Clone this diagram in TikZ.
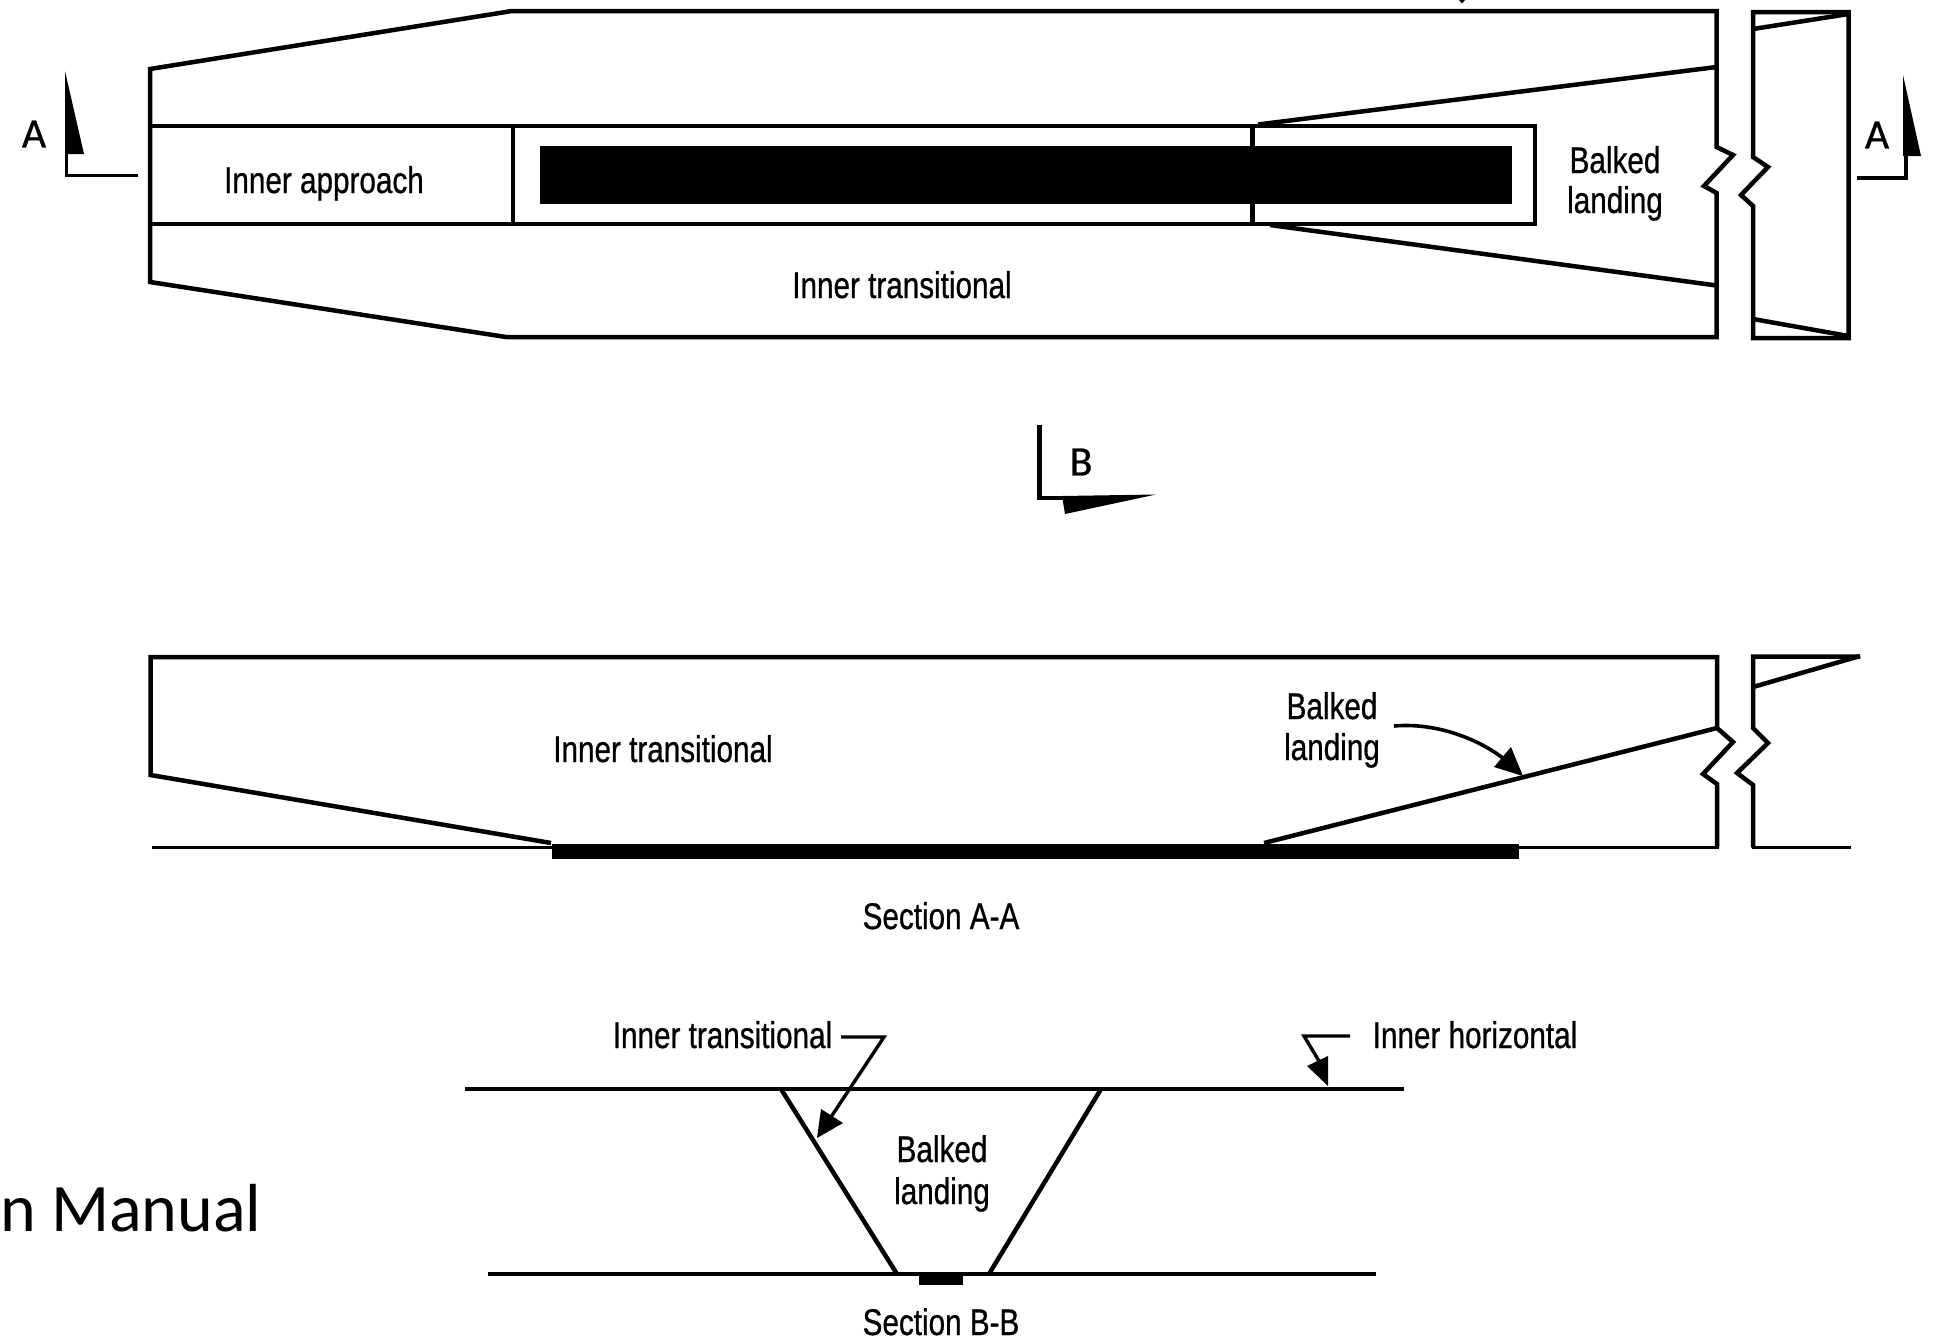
\documentclass[tikz,border=0pt]{standalone}
\usepackage{fontspec}
\setmainfont[FakeStretch=0.8,FakeBold=0.7]{Liberation Sans}
\newfontfamily\calfont[FakeBold=0.7]{Carlito}
\newfontfamily\capfont{Carlito}
\tikzset{
  ln/.style={draw=black,line width=4.5pt,line join=miter,line cap=butt},
  thn/.style={draw=black,line width=3.4pt,line join=miter},
  lbl/.style={inner sep=0pt,font=\fontsize{37.1}{42}\selectfont,align=center,text=black},
  sec/.style={inner sep=0pt,font=\calfont\fontsize{42}{42}\selectfont,text=black},
}
\begin{document}
\begin{tikzpicture}[x=1pt,y=-1pt]
\useasboundingbox[fill=white] (0,0) rectangle (1933,1339);
% ---------- plan ----------
\draw[ln] (150,69) -- (512,11) -- (1716.6,11) -- (1716.6,147) -- (1733,155) -- (1704,186) -- (1716.6,193) -- (1716.6,337) -- (506,337) -- (150,282) -- cycle;
\draw[ln] (150,126) -- (1535,126) -- (1535,224) -- (150,224);
\draw[ln] (513,126) -- (513,224);
\draw[ln] (1252.7,126) -- (1252.7,224);
\draw[ln] (1258,124.5) -- (1716.6,67);
\draw[ln] (1270,225) -- (1716.6,285.5);
\fill[black] (540,146) rectangle (1512,204);
% right piece
\draw[ln] (1753,12) -- (1848.5,12) -- (1848.5,338) -- (1753,338) -- (1753,206) -- (1741,195) -- (1768,167) -- (1753,157) -- cycle;
\draw[ln] (1753,29) -- (1848.5,14);
\draw[ln] (1753,319) -- (1848.5,336);
\fill[black] (1459,0) -- (1465,0) -- (1462,3.5) -- cycle;
% section marks
\fill[black] (65,71) -- (84,154) -- (65,154) -- cycle;
\draw[thn] (66.5,152) -- (66.5,175.5) -- (138,175.5);
\node[sec] (markAL) at (34,134) {A};
\fill[black] (1903,75) -- (1921,156) -- (1903,156) -- cycle;
\draw[thn] (1906,154) -- (1906,178) -- (1857,178);
\node[sec] (markAR) at (1877,135) {A};
\draw[line width=4.8pt] (1039.4,425) -- (1039.4,498) -- (1063,498);
\fill[black] (1062,496) -- (1156,494.5) -- (1065,514) -- cycle;
\node[sec] (markB) at (1081,462) {B};
\node[lbl,anchor=base] (ia) at (324,193) {Inner approach};
\node[lbl,anchor=base] (bl1) at (1615,173) {Balked};
\node[lbl,anchor=base] (bl2) at (1615,213) {landing};
\node[lbl,anchor=base] (it1) at (902,298) {Inner transitional};
% ---------- section A-A ----------
\draw[ln] (1717,847.5) -- (1717,784) -- (1703,774) -- (1733,742) -- (1717,728) -- (1717,657) -- (150.5,657) -- (150.5,775) -- (551,843);
\draw[thn] (152,847.5) -- (552,847.5);
\draw[thn] (1515,847.5) -- (1718.5,847.5);
\fill[black] (552,844) rectangle (1519,858.5);
\draw[ln] (1264,843) -- (1717,728);
\draw[ln] (1860,656.5) -- (1753,656.5) -- (1753,728) -- (1768,743) -- (1737,773) -- (1753,785) -- (1753,847.5);
\draw[ln] (1753,687) -- (1860,656);
\draw[thn] (1751.5,847.5) -- (1851,847.5);
\node[lbl,anchor=base] (it2) at (663,762) {Inner transitional};
\node[lbl,anchor=base] (bal1) at (1332,719) {Balked};
\node[lbl,anchor=base] (bal2) at (1332,760) {landing};
\node[lbl,anchor=base] (saa) at (941,929) {Section A-A};
\coordinate (balstart) at (1394,726);
\coordinate (baltip) at (1523,776);
\draw[line width=3.6pt] (balstart) .. controls (1440,722) and (1485,742) .. (1509,763);
\fill[black] (baltip) -- (1494,767) -- (1511,747) -- cycle;
% ---------- section B-B ----------
\draw[ln] (465,1089) -- (1404,1089);
\draw[ln] (488,1274) -- (1376,1274);
\draw[ln] (781,1089) -- (897,1274);
\draw[ln] (1101,1089) -- (989,1274);
\fill[black] (919,1274) rectangle (963,1285);
\node[lbl,anchor=base] (it3) at (722.5,1048) {Inner transitional};
\node[lbl,anchor=base] (ih) at (1475,1048) {Inner horizontal};
\node[lbl,anchor=base] (bb1) at (942,1162) {Balked};
\node[lbl,anchor=base] (bb2) at (942,1204) {landing};
\node[lbl,anchor=base] (sbb) at (941,1335) {Section B-B};
\coordinate (itk) at (884,1037);
\coordinate (ittip) at (817,1138);
\coordinate (ihk) at (1304,1036);
\coordinate (ihtip) at (1328,1086);
\draw[thn] (841,1037) -- (itk) -- (829,1120);
\fill[black] (ittip) -- (843,1123) -- (821,1109) -- cycle;
\draw[thn] (1350,1036) -- (ihk) -- (1322,1066);
\fill[black] (ihtip) -- (1307,1066) -- (1328,1056) -- cycle;
% ---------- cut-off caption ----------
\node[anchor=base west,inner sep=0pt,font=\capfont\fontsize{68}{68}\selectfont] (cap) at (0,1231) {n Manual};
\end{tikzpicture}
\end{document}
